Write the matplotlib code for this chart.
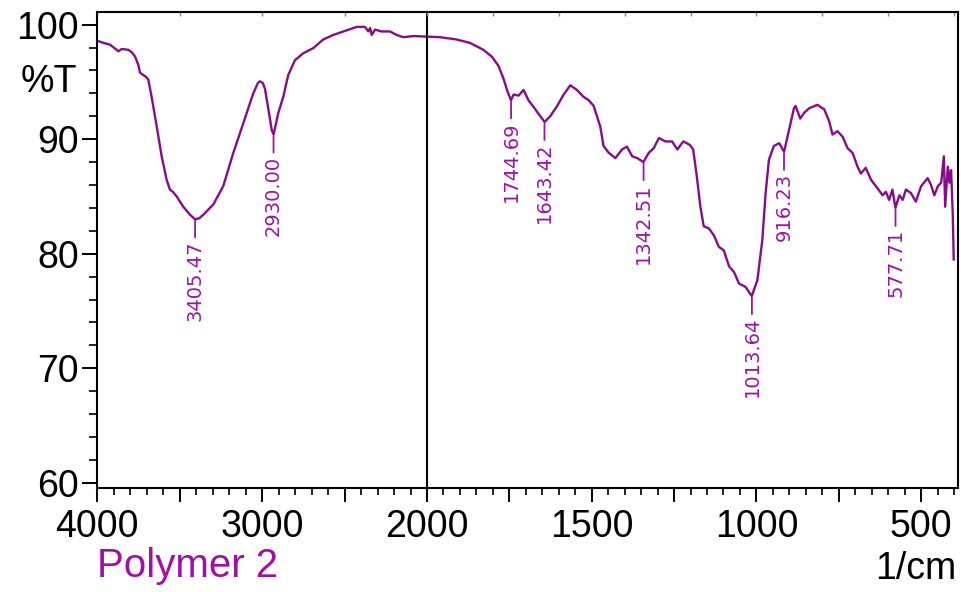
import numpy as np
import matplotlib
matplotlib.use("Agg")
import matplotlib.pyplot as plt
from matplotlib.ticker import MultipleLocator, FuncFormatter

######################################################################

# FTIR spectrum, Polymer 2

######################################################################

wavenumber = [4000, 3960, 3921, 3890, 3871, 3850, 3810, 3790, 3770, 3750,
              3739, 3719, 3700, 3689, 3669, 3638, 3608, 3578, 3558, 3540,
              3517, 3477, 3436, 3405, 3380, 3356, 3295, 3235, 3174, 3113,
              3053, 3025, 3012, 2995, 2982, 2960, 2941, 2930, 2915, 2901,
              2871, 2841, 2800, 2750, 2689, 2629, 2568, 2507, 2426, 2376,
              2365, 2356, 2345, 2335, 2315, 2275, 2224, 2184, 2144, 2083,
              2000, 1960, 1910, 1869, 1829, 1803, 1783, 1768, 1756, 1745,
              1737, 1722, 1707, 1692, 1671, 1656, 1643, 1626, 1605, 1585,
              1565, 1545, 1525, 1509, 1494, 1484, 1474, 1464, 1448, 1428,
              1408, 1393, 1377, 1362, 1343, 1327, 1312, 1296, 1276, 1256,
              1240, 1222, 1202, 1192, 1182, 1170, 1160, 1144, 1129, 1114,
              1099, 1083, 1068, 1053, 1033, 1014, 997, 982, 972, 962,
              947, 931, 916, 901, 886, 881, 867, 855, 840, 815,
              794, 779, 769, 754, 738, 723, 708, 693, 683, 668,
              652, 632, 617, 607, 597, 587, 578, 566, 556, 546,
              531, 516, 500, 480, 470, 460, 449, 439, 431, 427,
              419, 414, 409, 404, 401]

transmittance = [98.6, 98.4, 98.25, 97.9, 97.67, 97.87, 97.8, 97.6, 97.23, 96.5,
                 95.8, 95.6, 95.4, 95.2, 93.7, 91.1, 88.5, 86.45, 85.6, 85.4,
                 85.0, 84.1, 83.4, 83.0, 83.1, 83.4, 84.3, 85.9, 88.8, 91.4,
                 94.0, 94.9, 95.05, 94.9, 94.4, 92.5, 90.8, 90.4, 91.4, 92.3,
                 93.7, 95.6, 96.9, 97.5, 97.95, 98.7, 99.1, 99.4, 99.8, 99.8,
                 99.6, 99.4, 99.7, 99.1, 99.56, 99.4, 99.4, 99.1, 98.9, 99.0,
                 98.95, 98.9, 98.7, 98.4, 97.8, 97.2, 96.4, 95.3, 94.2, 93.4,
                 93.9, 93.8, 94.3, 93.4, 92.6, 92.0, 91.5, 92.0, 92.9, 93.9,
                 94.7, 94.3, 93.7, 93.4, 92.9, 92.0, 91.1, 89.4, 88.8, 88.35,
                 89.1, 89.35, 88.5, 88.35, 88.0, 88.8, 89.2, 90.1, 89.8, 89.8,
                 89.1, 89.8, 89.5, 89.1, 87.0, 84.1, 82.4, 82.2, 81.6, 80.6,
                 80.3, 78.9, 78.4, 77.4, 77.1, 76.3, 77.7, 81.2, 85.3, 88.2,
                 89.4, 89.65, 88.9, 90.8, 92.7, 92.9, 91.8, 92.3, 92.7, 93.0,
                 92.6, 91.55, 90.4, 90.7, 90.2, 89.2, 88.8, 87.6, 87.0, 87.5,
                 86.45, 85.7, 85.1, 85.4, 84.7, 85.6, 84.0, 85.1, 84.7, 85.6,
                 85.3, 84.55, 85.9, 86.6, 86.0, 85.1, 85.9, 86.2, 88.5, 84.1,
                 87.6, 86.2, 87.3, 83.5, 79.5]

# labelled peaks
peak_labels = ["3405.47", "2930.00", "1744.69", "1643.42",
               "1342.51", "1013.64", "916.23", "577.71"]
peak_wn = [3405.47, 2930.00, 1744.69, 1643.42, 1342.51, 1013.64, 916.23, 577.71]
peak_t = [83.0, 90.4, 93.4, 91.5, 88.0, 76.3, 88.9, 84.0]

line_color = "#860c88"
label_color = "#a010a8"

plt.rcParams['font.family'] = ['Liberation Sans', 'DejaVu Sans']

fig = plt.figure(figsize=(9.62, 5.92), dpi=100)
ax1 = fig.add_axes([97 / 962, 1 - 488 / 592, 330 / 962, 476 / 592])
ax2 = fig.add_axes([427 / 962, 1 - 488 / 592, 531 / 962, 476 / 592], sharey=ax1)
ax2.patch.set_visible(False)

for ax in (ax1, ax2):
    ax.plot(wavenumber, transmittance, color=line_color, lw=1.7)
    for s in ax.spines.values():
        s.set_linewidth(1.5)
    ax.tick_params(axis='x', which='major', direction='out', length=10,
                   width=1.4, labelsize=27, pad=5)
    ax.tick_params(axis='x', which='minor', direction='out', length=5, width=1.2)
    top = ax.secondary_xaxis('top')
    top.tick_params(direction='in', length=3, width=1, colors='#888888',
                    labeltop=False)
    top.spines['top'].set_visible(False)

ax1.set_xlim(4000, 2000)
ax2.set_xlim(2000, 388)
ax1.set_ylim(59.55, 101.1)

ax1.xaxis.set_major_locator(MultipleLocator(500))
ax1.xaxis.set_minor_locator(MultipleLocator(100))
ax1.xaxis.set_major_formatter(FuncFormatter(
    lambda v, p: "%d" % v if v % 1000 == 0 else ""))
ax2.xaxis.set_major_locator(MultipleLocator(250))
ax2.xaxis.set_minor_locator(MultipleLocator(50))
ax2.xaxis.set_major_formatter(FuncFormatter(
    lambda v, p: "%d" % v if (v % 500 == 0 and v < 2000) else ""))

ax1.yaxis.set_major_locator(MultipleLocator(10))
ax1.yaxis.set_minor_locator(MultipleLocator(2))
ax1.tick_params(axis='y', which='major', direction='out', length=11,
                width=1.4, labelsize=27, pad=2)
ax1.tick_params(axis='y', which='minor', direction='out', length=6, width=1.2)
ax2.spines['left'].set_visible(False)
ax2.tick_params(axis='y', which='both', left=False, labelleft=False)

# peak markers
for lab, w, t in zip(peak_labels, peak_wn, peak_t):
    ax = ax1 if w > 2000 else ax2
    ax.annotate(lab, xy=(w, t), xytext=(0, -15), textcoords='offset points',
                rotation=90, ha='center', va='top', fontsize=14,
                family='DejaVu Sans', color=label_color,
                arrowprops=dict(arrowstyle='-', color=label_color, lw=1.3,
                                shrinkA=0, shrinkB=1))

fig.text(77 / 962, 1 - 82 / 592, "%T", ha='right', va='center', fontsize=27)
fig.text(97 / 962, 1 - 577 / 592, "Polymer 2", ha='left', va='baseline',
         fontsize=29, color=label_color)
fig.text(956 / 962, 1 - 579 / 592, "1/cm", ha='right', va='baseline',
         fontsize=27)

fig.savefig("out.png", dpi=100)
